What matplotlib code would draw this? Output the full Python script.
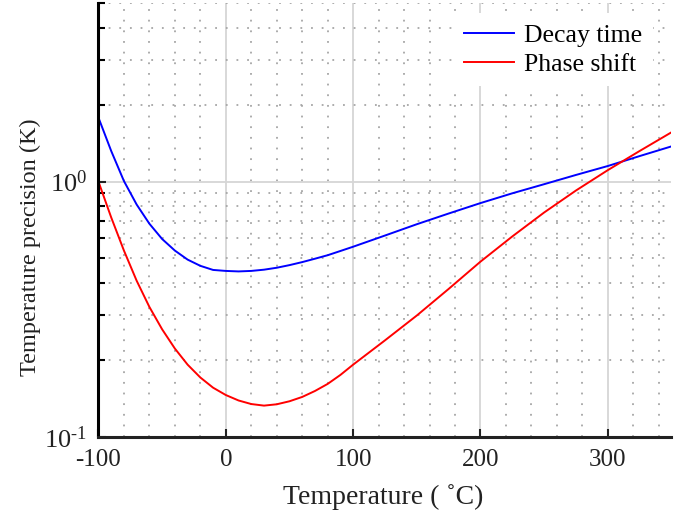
import matplotlib
matplotlib.use("Agg")
import matplotlib.pyplot as plt
from matplotlib.ticker import LogLocator, FixedLocator, NullFormatter, FixedFormatter
import numpy as np

# ── data ────────────────────────────────────────────────────────────────────
temp_decay = [-100, -90, -80, -70, -60, -50, -40, -30, -20, -10, 0, 10, 20, 30,
              40, 50, 60, 70, 80, 90, 100, 125, 150, 175, 200, 225, 250, 275,
              300, 325, 350]
prec_decay = [1.78, 1.318, 1.005, 0.813, 0.684, 0.596, 0.537, 0.495, 0.468,
              0.451, 0.447, 0.445, 0.447, 0.452, 0.460, 0.471, 0.484, 0.499,
              0.515, 0.535, 0.556, 0.615, 0.681, 0.750, 0.824, 0.90, 0.977,
              1.062, 1.151, 1.259, 1.374]

temp_phase = [-100, -90, -80, -70, -60, -50, -40, -30, -20, -10, 0, 10, 20, 30,
              40, 50, 60, 70, 80, 90, 100, 125, 150, 175, 200, 225, 250, 275,
              300, 325, 350]
prec_phase = [1.00, 0.724, 0.537, 0.409, 0.323, 0.264, 0.222, 0.192, 0.171,
              0.156, 0.146, 0.139, 0.1346, 0.1327, 0.1343, 0.138, 0.1435,
              0.1514, 0.1614, 0.175, 0.192, 0.239, 0.299, 0.380, 0.486, 0.610,
              0.757, 0.923, 1.109, 1.318, 1.56]

series_names = ["Decay time", "Phase shift"]
x_ticks = [-100, 0, 100, 200, 300]
y_tick_labels = [r"$\mathregular{10^{\text{-}1}}$", r"$\mathregular{10^{0}}$"]

# ── style ────────────────────────────────────────────────────────────────────
plt.rcParams["font.family"] = ["Liberation Serif", "DejaVu Serif"]
plt.rcParams["mathtext.fontset"] = "custom"
plt.rcParams["mathtext.rm"] = "Liberation Serif"
plt.rcParams["axes.unicode_minus"] = False

fig = plt.figure(figsize=(6.81, 5.19), dpi=100)
ax = fig.add_axes([0.1446, 0.158, 0.8414, 0.836])

ax.plot(temp_decay, prec_decay, color="#0000ff", lw=1.4, label=series_names[0])
ax.plot(temp_phase, prec_phase, color="#ff0000", lw=1.4, label=series_names[1])

ax.set_yscale("log")
ax.set_xlim(-100, 350)
ax.set_ylim(0.1, 5)

ax.xaxis.set_major_locator(FixedLocator(x_ticks))
ax.xaxis.set_minor_locator(FixedLocator(np.arange(-100, 351, 20)))
ax.yaxis.set_major_locator(FixedLocator([0.1, 1]))
ax.yaxis.set_major_formatter(FixedFormatter(y_tick_labels))
ax.yaxis.set_minor_locator(LogLocator(base=10, subs=np.arange(2, 10)))
ax.yaxis.set_minor_formatter(NullFormatter())

ax.grid(which="major", color="#d6d6d6", lw=1.3, ls="-")
ax.grid(which="minor", color="#a6a6a6", lw=1.3, ls=(0, (1, 4.9)))
ax.set_axisbelow(True)

for s in ["top", "right"]:
    ax.spines[s].set_visible(False)
ax.spines["left"].set_linewidth(2.2)
ax.spines["left"].set_color("black")
ax.spines["bottom"].set_linewidth(2.2)
ax.spines["bottom"].set_color("#222222")

ax.tick_params(axis="x", which="major", direction="in", length=6, width=1.5,
               labelsize=18, pad=9, colors="#222222")
ax.tick_params(axis="y", which="major", direction="in", length=6, width=1.5,
               labelsize=19, pad=8, colors="#222222")
ax.tick_params(axis="x", which="minor", length=0)
ax.tick_params(axis="y", which="minor", direction="in", length=5, width=1.5)

ax.set_xlabel("Temperature ( \u02daC)", fontsize=20, color="#222222")
ax.xaxis.set_label_coords(0.4977, -0.108)
ax.set_ylabel("Temperature precision (K)", fontsize=17.5, color="#222222")
ax.yaxis.set_label_coords(-0.1, 0.438)

leg = ax.legend(loc="upper right", bbox_to_anchor=(0.99, 1.006), fontsize=18.5,
                frameon=True, fancybox=False, edgecolor="none",
                facecolor="white", framealpha=1, handlelength=1.95,
                handletextpad=0.4, borderaxespad=0.5, labelspacing=0.25)

fig.savefig("out.png", dpi=100)
